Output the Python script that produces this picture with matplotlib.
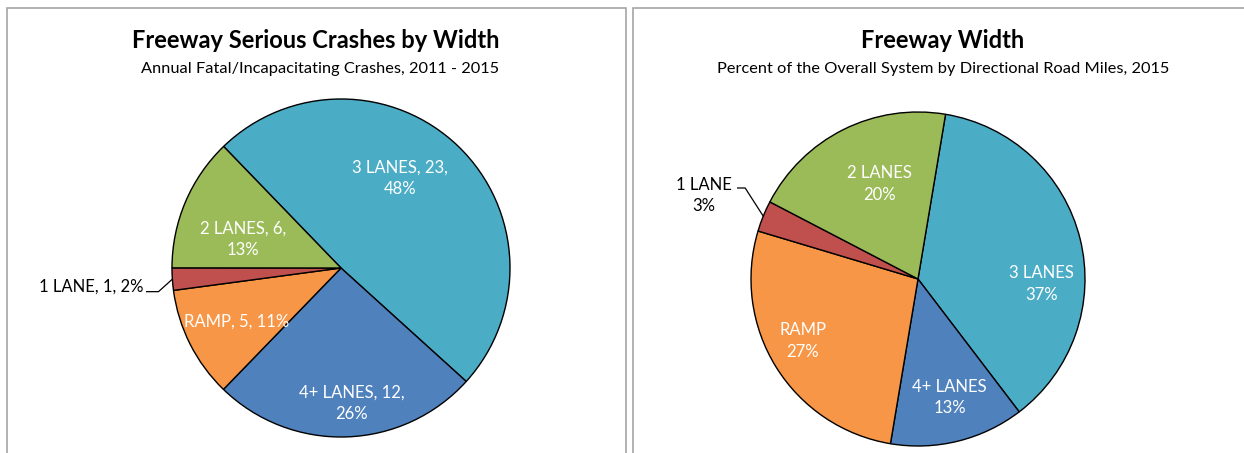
import numpy as np
import matplotlib
matplotlib.use("Agg")
import matplotlib.pyplot as plt
from matplotlib.patches import Rectangle

# ── data ──────────────────────────────────────────────────────────────────
crash_cats   = ["3 LANES", "4+ LANES", "RAMP", "1 LANE", "2 LANES"]
crash_counts = [23, 12, 5, 1, 6]
crash_pcts   = [48, 26, 11, 2, 13]

width_cats = ["3 LANES", "4+ LANES", "RAMP", "1 LANE", "2 LANES"]
width_pcts = [37, 13, 27, 3, 20]

COLORS = {"3 LANES": "#4BACC6", "4+ LANES": "#4F81BD", "RAMP": "#F79646",
          "1 LANE": "#C0504D", "2 LANES": "#9BBB59"}

W, H = 1244, 453
plt.rcParams["font.family"] = ["Lato", "DejaVu Sans"]
LBL_FS = 12

fig = plt.figure(figsize=(W / 100, H / 100), dpi=100, facecolor="white")
ax = fig.add_axes([0, 0, 1, 1])

# panel frames
for x0, x1 in [(7, 626), (633, 1260)]:
    ax.add_patch(Rectangle((x0, -20), x1 - x0, H - 8 + 20, fill=False,
                           edgecolor="#A6A6A6", lw=1.2, clip_on=False))


def draw_pie(cx, cy, r, cats, vals, start, labels, offsets, outside):
    wedges, _ = ax.pie(vals, colors=[COLORS[c] for c in cats], startangle=start,
                       counterclock=False, center=(cx, cy), radius=r,
                       wedgeprops=dict(edgecolor="black", linewidth=1.0),
                       frame=True)
    for w, lbl, (ox, oy), c in zip(wedges, labels, offsets, cats):
        tx, ty = cx + ox * r, cy + oy * r
        if c in outside:
            mid = np.deg2rad((w.theta1 + w.theta2) / 2)
            ex, ey = cx + r * np.cos(mid), cy + r * np.sin(mid)
            lx, ly, ha = outside[c]
            ax.plot([cx + lx[0] * r, cx + lx[1] * r, ex],
                    [cy + ly[0] * r, cy + ly[1] * r, ey],
                    color="black", lw=0.9)
            ax.text(tx, ty, lbl, ha=ha, va="center", fontsize=LBL_FS,
                    color="black", linespacing=1.45)
        else:
            ax.text(tx, ty, lbl, ha="center", va="center", fontsize=LBL_FS,
                    color="white", linespacing=1.45)


# left pie
lcx, lcy, lr = 341, H - 268, 169
left_labels = [f"{c}, {n},\n{p}%" for c, n, p in zip(crash_cats, crash_counts, crash_pcts)]
left_labels[2] = f"{crash_cats[2]}, {crash_counts[2]}, {crash_pcts[2]}%"
left_labels[3] = f"{crash_cats[3]}, {crash_counts[3]}, {crash_pcts[3]}%"
left_offsets = [(0.35, 0.53), (0.065, -0.80), (-0.62, -0.32), (-1.17, -0.11), (-0.58, 0.17)]
draw_pie(lcx, lcy, lr, crash_cats, crash_counts, 134, left_labels, left_offsets,
         {"1 LANE": ((-1.15, -1.08), (-0.14, -0.14), "right")})

# right pie
rcx, rcy, rr = 918, H - 279, 167
right_labels = [f"{c}\n{p}%" for c, p in zip(width_cats, width_pcts)]
right_offsets = [(0.74, -0.03), (0.19, -0.71), (-0.69, -0.37), (-1.28, 0.50), (-0.23, 0.57)]
draw_pie(rcx, rcy, rr, width_cats, width_pcts, 80.5, right_labels, right_offsets,
         {"1 LANE": ((-1.08, -1.035), (0.545, 0.545), "center")})

ax.set_xlim(0, W)
ax.set_ylim(0, H)
ax.set_aspect("equal")
ax.axis("off")

# titles
ax.text(316, H - 40, "Freeway Serious Crashes by Width", ha="center", va="center",
        fontsize=17, fontweight="bold", color="black")
ax.text(320, H - 69, "Annual Fatal/Incapacitating Crashes, 2011 - 2015", ha="center",
        va="center", fontsize=11.8, color="black")
ax.text(943, H - 40, "Freeway Width", ha="center", va="center",
        fontsize=17, fontweight="bold", color="black")
ax.text(943, H - 69, "Percent of the Overall System by Directional Road Miles, 2015",
        ha="center", va="center", fontsize=11.8, color="black")

fig.savefig("out.png", dpi=100, facecolor="white")
